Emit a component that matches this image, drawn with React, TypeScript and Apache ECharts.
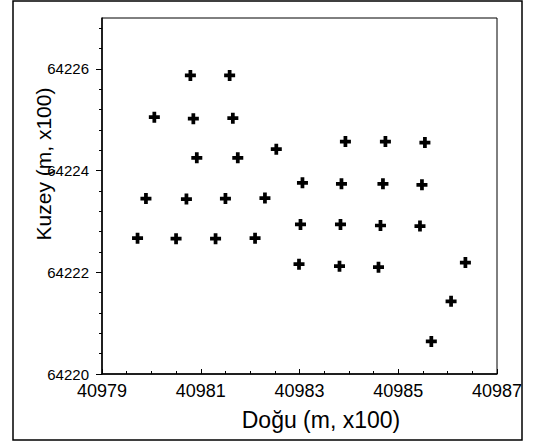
import React, { useEffect, useRef } from "react";
import * as echarts from "echarts";

// Survey points: easting (x100 m) and northing (x100 m)
const eastings = [
  40980.79, 40981.585, 40980.06, 40980.85, 40981.65, 40980.92, 40981.75, 40982.53,
  40983.93, 40984.74, 40985.54, 40979.89, 40980.71, 40981.5, 40982.3, 40983.06,
  40983.85, 40984.69, 40985.48, 40979.72, 40980.5, 40981.3, 40982.1, 40983.02,
  40983.83, 40984.64, 40985.44, 40982.99, 40983.81, 40984.6, 40986.36, 40986.07,
  40985.67,
];
const northings = [
  64225.87, 64225.87, 64225.05, 64225.02, 64225.03, 64224.25, 64224.25, 64224.42,
  64224.57, 64224.57, 64224.55, 64223.45, 64223.44, 64223.45, 64223.46, 64223.76,
  64223.74, 64223.74, 64223.72, 64222.67, 64222.66, 64222.66, 64222.67, 64222.94,
  64222.94, 64222.92, 64222.91, 64222.16, 64222.12, 64222.1, 64222.19, 64221.43,
  64220.64,
];
const xTicks = [40979, 40981, 40983, 40985, 40987];
const yTicks = [64220, 64222, 64224, 64226];
const xTitle = "Doğu (m, x100)";
const yTitle = "Kuzey (m, x100)";

const FONT = '"Liberation Sans", Arial, sans-serif';
const PLUS = "path://M3.3,0H6.7V3.3H10V6.7H6.7V10H3.3V6.7H0V3.3H3.3Z";

export default function App() {
  const ref = useRef<HTMLDivElement>(null);
  useEffect(() => {
    if (!ref.current) return;
    const chart = echarts.init(ref.current, null, { renderer: "svg" });
    const data = eastings.map((x, i) => [x, northings[i]]);
    chart.setOption({
      animation: false,
      backgroundColor: "#ffffff",
      grid: {
        left: 102,
        top: 18,
        right: 36,
        bottom: 68,
        show: true,
        borderColor: "#000",
        borderWidth: 1,
        backgroundColor: "transparent",
      },
      xAxis: {
        type: "value",
        min: xTicks[0],
        max: xTicks[xTicks.length - 1],
        interval: 2,
        axisLine: { show: true, onZero: false, lineStyle: { color: "#000", width: 1.5 } },
        axisTick: { show: true, inside: true, length: 5, lineStyle: { color: "#000" } },
        minorTick: { show: true, splitNumber: 4, length: 3, lineStyle: { color: "#000" } },
        splitLine: { show: false },
        axisLabel: {
          customValues: xTicks,
          formatter: (v: number) => String(v),
          color: "#000",
          fontFamily: FONT,
          fontSize: 18,
          margin: 8,
        },
      },
      yAxis: {
        type: "value",
        min: 64220,
        max: 64227,
        interval: 2,
        axisLine: { show: true, onZero: false, lineStyle: { color: "#000", width: 1.5 } },
        axisTick: { show: true, customValues: yTicks, inside: false, length: 6, lineStyle: { color: "#000" } },
        minorTick: { show: true, splitNumber: 5, length: 3, lineStyle: { color: "#000" } },
        splitLine: { show: false },
        axisLabel: {
          customValues: yTicks,
          formatter: (v: number) => String(v),
          color: "#000",
          fontFamily: FONT,
          fontSize: 15,
          margin: 13,
        },
      },
      graphic: [
        {
          type: "rect",
          shape: { x: 13, y: 1, width: 509, height: 439 },
          style: { fill: "none", stroke: "#000", lineWidth: 1.5 },
          silent: true,
        },
        {
          type: "text",
          x: 43,
          y: 164,
          rotation: Math.PI / 2,
          style: {
            text: yTitle,
            fill: "#000",
            font: `21px ${FONT}`,
            align: "center",
            verticalAlign: "middle",
          },
        },
        {
          type: "text",
          x: 321,
          y: 420,
          style: {
            text: xTitle,
            fill: "#000",
            font: `23px ${FONT}`,
            align: "center",
            verticalAlign: "middle",
          },
        },
      ],
      series: [
        {
          type: "scatter",
          data,
          symbol: PLUS,
          symbolSize: 11,
          itemStyle: { color: "#000", opacity: 1 },
        },
      ],
    });
    return () => chart.dispose();
  }, []);
  return (
    <div
      ref={ref}
      style={{ position: "fixed", left: 0, top: 0, width: 533, height: 442, background: "#fff" }}
    />
  );
}
